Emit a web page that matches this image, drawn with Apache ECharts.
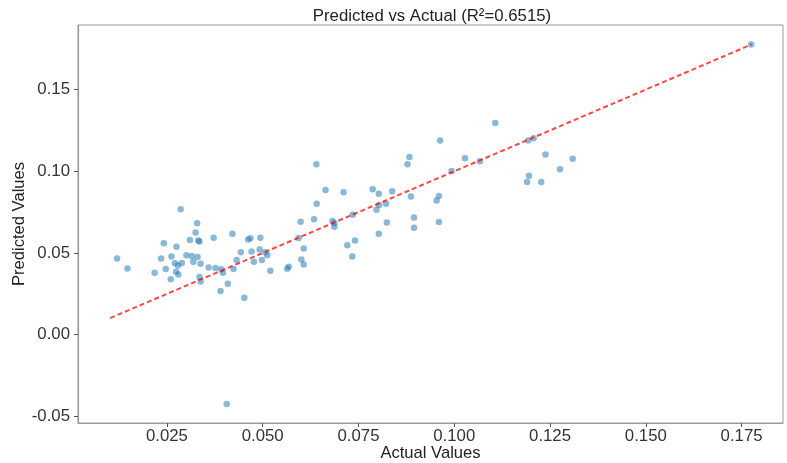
<!DOCTYPE html>
<html>
<head>
<meta charset="utf-8">
<script src="https://cdn.jsdelivr.net/npm/echarts@6/dist/echarts.min.js"></script>
<style>html,body{margin:0;padding:0;background:#fff;}#chart{width:787px;height:463px;}</style>
</head>
<body>
<div id="chart"></div>
<script>
const actualValues = [
0.0286,0.0329,0.0325,0.0310,0.0335,0.0332,0.0242,0.0275,0.0372,0.0421,0.0462,0.0468,0.0494,
0.0120,0.0147,0.0235,0.0262,0.0301,0.0315,0.0330,0.0289,0.0271,0.0279,0.0319,0.0338,0.0247,
0.0218,0.0274,0.0280,0.0260,0.0335,0.0338,0.0359,0.0377,0.0392,0.0396,0.0424,0.0432,0.0443,
0.0471,0.0477,0.0492,0.0498,0.0507,0.0512,0.0520,0.0390,0.0409,0.0452,0.0406,
0.0883,0.0878,0.0640,0.0664,0.0711,0.0787,0.0803,0.0838,0.0641,0.0887,0.0960,0.0954,0.0804,
0.0822,0.0797,0.0634,0.0599,0.0682,0.0687,0.0687,0.0735,0.0824,0.0895,0.0895,0.0960,0.0803,
0.0594,0.0607,0.0741,0.0721,0.0601,0.0607,0.0734,0.0564,0.0568,
0.1107,0.0963,0.1193,0.1207,0.1028,0.1067,0.1238,0.1309,0.0993,0.1195,0.1190,0.1227,0.1276,
0.1775
];
const predictedValues = [
0.0767,0.0682,0.0625,0.0580,0.0571,0.0576,0.0559,0.0539,0.0594,0.0618,0.0582,0.0590,0.0594,
0.0467,0.0406,0.0467,0.0479,0.0486,0.0482,0.0476,0.0439,0.0437,0.0423,0.0447,0.0435,0.0402,
0.0380,0.0386,0.0369,0.0339,0.0353,0.0325,0.0412,0.0408,0.0400,0.0380,0.0402,0.0457,0.0504,
0.0510,0.0447,0.0521,0.0457,0.0504,0.0486,0.0392,0.0268,0.0312,0.0227,-0.0423,
0.1088,0.1043,0.1043,0.0886,0.0871,0.0890,0.0863,0.0878,0.0802,0.0845,0.0849,0.0821,0.0794,
0.0802,0.0764,0.0706,0.0692,0.0696,0.0684,0.0660,0.0734,0.0686,0.0718,0.0655,0.0690,0.0618,
0.0592,0.0528,0.0577,0.0547,0.0461,0.0430,0.0478,0.0404,0.0416,
0.1296,0.1188,0.1188,0.1202,0.1080,0.1061,0.1102,0.1076,0.1002,0.0972,0.0935,0.0935,0.1012,
0.1776
];
const idealLine = [0.0102, 0.1776];
const xTicks = [0.025, 0.050, 0.075, 0.100, 0.125, 0.150, 0.175];
const yTicks = [-0.05, 0.00, 0.05, 0.10, 0.15];

const points = actualValues.map((a, i) => [a, predictedValues[i]]);
const lineData = idealLine.map(v => [v, v]);

const chart = echarts.init(document.getElementById('chart'), null, {renderer: 'canvas'});
const ff = '"Liberation Sans", Arial, Helvetica, sans-serif';
const spine = '#9a9a9a';
chart.setOption({
  animation: false,
  backgroundColor: '#fff',
  title: {
    text: 'Predicted vs Actual (R²=0.6515)',
    left: 427, top: 3, textAlign: 'center',
    textStyle: {fontFamily: ff, fontSize: 16.8, fontWeight: 'normal', color: '#222'}
  },
  grid: {left: 78, right: 4, top: 25, bottom: 40, show: true, borderColor: spine, borderWidth: 1,
    containLabel: false, outerBoundsMode: 'none'},
  xAxis: {
    type: 'value', min: 0.0018, max: 0.1858,
    name: 'Actual Values', nameLocation: 'middle', nameGap: 22, nameMoveOverlap: false,
    nameTextStyle: {fontFamily: ff, fontSize: 16.6, color: '#222'},
    splitLine: {show: false},
    axisLine: {show: true, onZero: false, lineStyle: {color: spine, width: 1.2}},
    axisTick: {show: true, length: 4, lineStyle: {color: '#555'}, customValues: xTicks},
    axisLabel: {fontFamily: ff, fontSize: 16.8, color: '#333', margin: 5, customValues: xTicks,
      formatter: v => v.toFixed(3)}
  },
  yAxis: {
    type: 'value', min: -0.0540, max: 0.1895,
    name: 'Predicted Values', nameLocation: 'middle', nameGap: 50, nameRotate: 90, nameMoveOverlap: false,
    nameTextStyle: {fontFamily: ff, fontSize: 16.6, color: '#222'},
    splitLine: {show: false},
    axisLine: {show: true, onZero: false, lineStyle: {color: spine, width: 1.2}},
    axisTick: {show: true, length: 4, lineStyle: {color: '#555'}, customValues: yTicks},
    axisLabel: {fontFamily: ff, fontSize: 16.8, color: '#333', margin: 8, customValues: yTicks,
      formatter: v => v.toFixed(2)}
  },
  series: [
    {
      type: 'scatter', data: points, symbolSize: 6.5,
      itemStyle: {color: 'rgba(31,119,180,0.65)'},
      z: 2
    },
    {
      type: 'line', data: lineData, symbol: 'none',
      lineStyle: {color: 'rgba(255,0,0,0.72)', width: 2, type: [5, 3]},
      z: 3
    }
  ]
});
</script>
</body>
</html>
